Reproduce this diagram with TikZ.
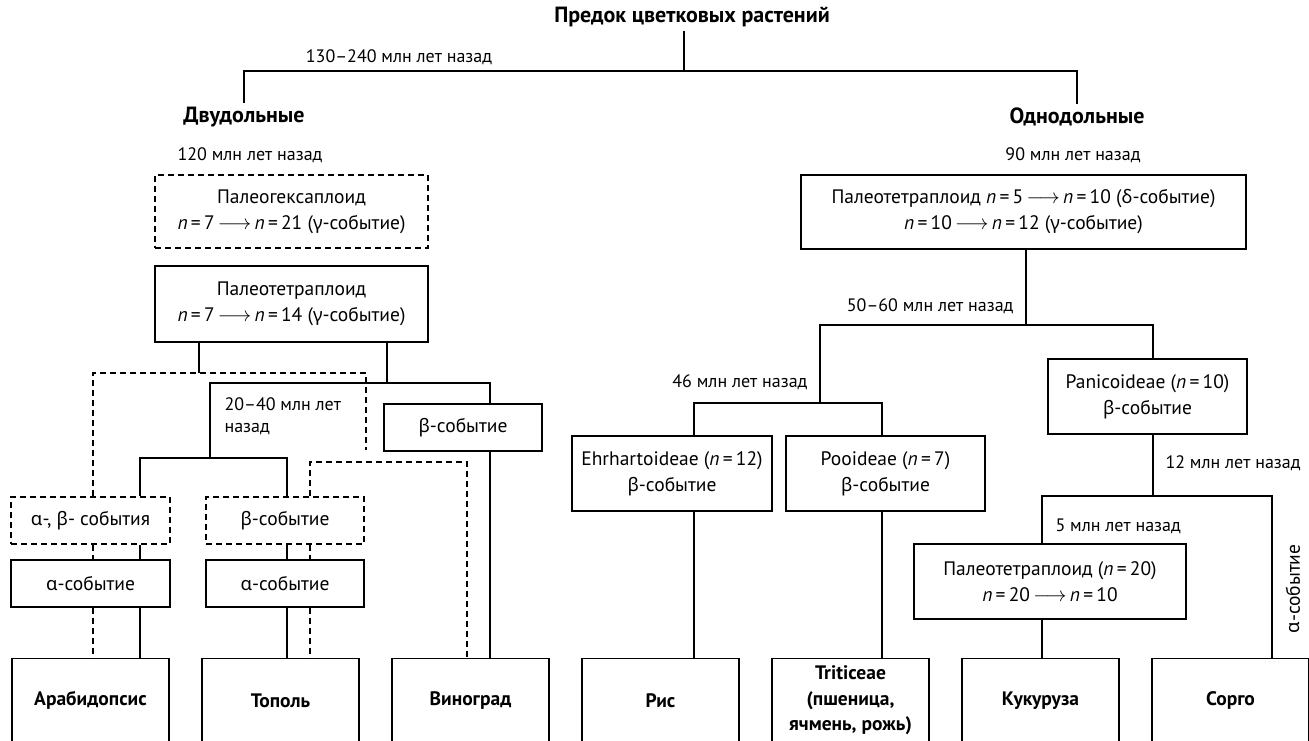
\documentclass[tikz,border=0pt]{standalone}
\usepackage{fontspec}
\setmainfont{PT Sans}
\newfontfamily\grkfont[Scale=0.95]{Noto Sans}
\usetikzlibrary{positioning}
\newcommand{\gra}{{\grkfont α}}
\newcommand{\grb}{{\grkfont β}}
\newcommand{\grg}{{\grkfont γ}}
\newcommand{\grd}{{\grkfont δ}}
\newcommand{\nv}[1]{\textit{n}\,=\,#1}
\newcommand{\arr}{\,$\longrightarrow$\,}

\begin{document}
\begin{tikzpicture}[x=1pt, y=-1pt, line width=1.1pt,
        font=\fontsize{18}{22}\selectfont,
        head/.style={font=\fontsize{22}{26}\selectfont\bfseries},
        evbox/.style={draw, inner sep=0pt, align=center, font=\fontsize{19.5}{26}\selectfont},
        dline/.style={dash pattern=on 6pt off 4pt},
        devbox/.style={evbox, dline},
        leafbox/.style={draw, inner sep=0pt, align=center, font=\fontsize{19.5}{25.5}\selectfont\bfseries,
            anchor=north, minimum width=157pt, minimum height=84pt}]
        \useasboundingbox (0,0) rectangle (1309,740);
        \clip (0,0) rectangle (1309,740);
        \node[head] (root) at (692,17) {Предок цветковых растений};
        \node (t130) at (399,57) {130–240 млн лет назад};
        \node[head] (dic) at (244,117) {Двудольные};
        \node[head] (mon) at (1077,117) {Однодольные};
        \coordinate (rootj) at (684,71);
        \draw (root.south -| rootj) -- (rootj);
        \draw (dic) |- (rootj) -| (mon);

        \node (t120) at (250,155) {120 млн лет назад};
        \node[devbox, minimum width=273pt, minimum height=73pt] (hexa) at (291.5,211.5) {Палеогексаплоид\\\nv{7}\arr\nv{21} (\grg-событие)};
        \node[evbox, minimum width=273pt, minimum height=76pt] (dtet) at (291.5,304) {Палеотетраплоид\\\nv{7}\arr\nv{14} (\grg-событие)};
        \node[evbox, minimum width=158pt, minimum height=47pt] (vbeta) at (463,427.5) {\grb-событие};
        \node[align=left, anchor=north west, inner sep=0pt] (t2040) at (224,397) {20–40 млн лет\\назад};
        \node[devbox, minimum width=159pt, minimum height=47pt] (abd) at (90.5,520.5) {\gra-, \grb- события};
        \node[evbox, minimum width=159pt, minimum height=47pt] (aa) at (90.5,583.5) {\gra-событие};
        \node[devbox, minimum width=158pt, minimum height=47pt] (pbd) at (285,520.5) {\grb-событие};
        \node[evbox, minimum width=158pt, minimum height=47pt] (pa) at (285,583.5) {\gra-событие};

        \node[leafbox] (arab) at (90.5,658) {Арабидопсис};
        \node[leafbox] (pop) at (280.5,658) {Тополь};
        \node[leafbox] (vin) at (470.5,658) {Виноград};
        \node[leafbox] (rice) at (660.5,658) {Рис};
        \node[leafbox] (trit) at (850.5,658) {Triticeae\\(пшеница,\\ячмень, рожь)};
        \node[leafbox] (kuk) at (1040.5,658) {Кукуруза};
        \node[leafbox] (sor) at (1230.5,658) {Сорго};

        \coordinate (s1) at (199,373);
        \coordinate (s2) at (387,383);
        \coordinate (s3) at (210,383);
        \coordinate (s4) at (490,383);
        \coordinate (s5) at (210,458);
        \coordinate (s6) at (140,458);
        \coordinate (s7) at (287,458);
        \draw (dtet.south -| s1) -- (s1);
        \draw (dtet.south -| s2) -- (s2);
        \draw (s5) -- (s3) -- (s4) -- (vbeta.north -| s4);
        \draw (vbeta.south -| s4) -- (vin.north -| s4);
        \draw (abd.north -| s6) -- (s6) -- (s7) -- (pbd.north -| s7);
        \draw (abd.south -| s6) -- (aa.north -| s6);
        \draw (aa.south -| s6) -- (arab.north -| s6);
        \draw (pbd.south -| s7) -- (pa.north -| s7);
        \draw (pa.south -| s7) -- (pop.north -| s7);

        \coordinate (dl) at (93,373);
        \coordinate (dr) at (366,373);
        \coordinate (drend) at (366,450);
        \coordinate (d2) at (310,462);
        \coordinate (d3) at (467,462);
        \draw[dline] (abd.north -| dl) -- (dl) -- (dr) -- (drend);
        \draw[dline] (abd.south -| dl) -- (aa.north -| dl);
        \draw[dline] (aa.south -| dl) -- (arab.north -| dl);
        \draw[dline] (pbd.north -| d2) -- (d2) -- (d3) -- (vin.north -| d3);
        \draw[dline] (pbd.south -| d2) -- (pa.north -| d2);
        \draw[dline] (pa.south -| d2) -- (pop.north -| d2);

        \node (t90) at (1073,155) {90 млн лет назад};
        \node[evbox, minimum width=445pt, minimum height=74pt] (mtet) at (1023.5,212) {Палеотетраплоид \nv{5}\arr\nv{10} (\grd-событие)\\\nv{10}\arr\nv{12} (\grg-событие)};
        \node[anchor=east, inner sep=0pt] (t5060) at (1014,306) {50–60 млн лет назад};
        \node[anchor=east, inner sep=0pt] (t46) at (808,382) {46 млн лет назад};
        \node[evbox, minimum width=200pt, minimum height=75pt] (ehr) at (672,473.5) {Ehrhartoideae (\nv{12})\\\grb-событие};
        \node[evbox, minimum width=199pt, minimum height=75pt] (poo) at (885.5,473.5) {Pooideae (\nv{7})\\\grb-событие};
        \node[evbox, minimum width=199pt, minimum height=75pt] (pan) at (1147.5,396.5) {Panicoideae (\nv{10})\\\grb-событие};
        \node[anchor=west, inner sep=0pt] (t12) at (1165,463) {12 млн лет назад};
        \node[anchor=west, inner sep=0pt] (t5) at (1055,526) {5 млн лет назад};
        \node[evbox, minimum width=272pt, minimum height=75pt] (p20) at (1050,581.5) {Палеотетраплоид (\nv{20})\\\nv{20}\arr\nv{10}};
        \node[rotate=90, inner sep=0pt, font=\fontsize{19.5}{24}\selectfont] (aev) at (1293,589) {\gra-событие};

        \coordinate (m1) at (1026,325);
        \coordinate (m2) at (820,325);
        \coordinate (m3) at (1153,325);
        \coordinate (m4) at (820,403);
        \coordinate (m5) at (694,403);
        \coordinate (m6) at (882,403);
        \coordinate (m7) at (1153,496);
        \coordinate (m8) at (1042,496);
        \coordinate (m9) at (1272,496);
        \draw (mtet.south -| m1) -- (m1);
        \draw (m4) -- (m2) -- (m3) -- (pan.north -| m3);
        \draw (ehr.north -| m5) -- (m5) -- (m6) -- (poo.north -| m6);
        \draw (ehr.south -| m5) -- (rice.north -| m5);
        \draw (poo.south -| m6) -- (trit.north -| m6);
        \draw (pan.south -| m7) -- (m7);
        \draw (p20.north -| m8) -- (m8) -- (m9) -- (sor.north -| m9);
        \draw (p20.south -| m8) -- (kuk.north -| m8);
\end{tikzpicture}
\end{document}
